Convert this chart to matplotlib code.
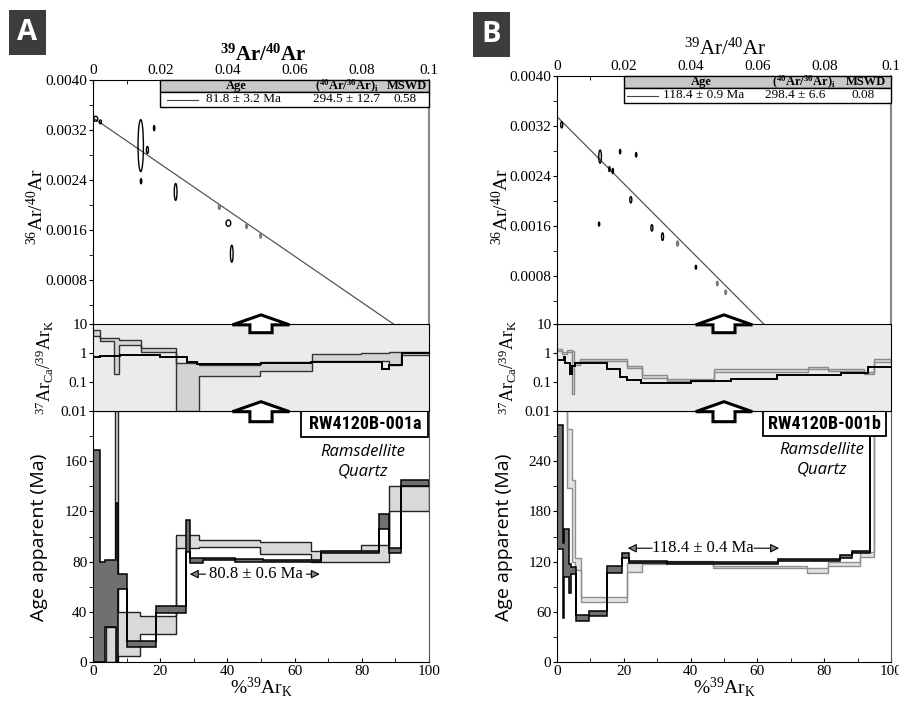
import matplotlib
matplotlib.use('Agg')
import matplotlib.pyplot as plt
from matplotlib.patches import Ellipse, Polygon, Rectangle
from matplotlib.ticker import MultipleLocator, FixedLocator, NullLocator, FormatStrFormatter

plt.rcParams['font.family'] = ['Liberation Serif', 'DejaVu Serif']
plt.rcParams['mathtext.default'] = 'regular'
SANS = ['Open Sans', 'DejaVu Sans']
NARROW = ['Liberation Sans Narrow', 'Roboto Condensed', 'DejaVu Sans Condensed', 'Roboto', 'DejaVu Sans']

# ---------------- dados: painel A ----------------
iso_A_x = [0.0008, 0.0022, 0.0142, 0.0162, 0.0182, 0.0143, 0.0246, 0.0376, 0.0403, 0.0457, 0.0499, 0.0413]
iso_A_y = [0.00338, 0.00333, 0.00295, 0.00288, 0.00323, 0.00238, 0.00221, 0.00197, 0.00171, 0.00166, 0.00151, 0.00122]
iso_A_w = [0.0012, 0.0006, 0.0016, 0.0006, 0.0004, 0.0004, 0.0008, 0.0006, 0.0014, 0.0005, 0.0005, 0.0008]
iso_A_h = [0.00008, 0.00006, 0.00083, 0.00011, 0.00008, 0.00008, 0.00027, 0.00008, 0.0001, 0.00007, 0.00008, 0.00027]
iso_A_used = [0, 0, 0, 0, 0, 0, 0, 1, 0, 1, 1, 0]
iso_A_line = [0.003396, 0.092]          # intercepto y, intercepto x
iso_A_table = ['81.8 ± 3.2 Ma', '294.5 ± 12.7', '0.58']

caK_A_edges = [0, 2.1, 6.3, 7.6, 14.2, 24.7, 31.6, 49.7, 65.1, 79.8, 88.2, 91.6, 100]
caK_A_lo = [3.9, 2.6, 0.19, 1.9, 1.1, 0.01, 0.166, 0.245, 0.54, 0.55, 0.39, 0.85]
caK_A_hi = [6.2, 3.3, 3.4, 2.8, 1.5, 0.45, 0.39, 0.48, 0.93, 1.0, 1.1, 1.05]
caK_A_line_edges = [0, 2, 8, 20, 28, 31, 42, 50, 65, 86, 88.2, 92, 100]
caK_A_line = [0.75, 0.8, 0.85, 0.7, 0.5, 0.42, 0.43, 0.46, 0.5, 0.28, 0.38, 1.0]

age_A_light_edges = [4, 6.5, 7.5, 14.1, 24.6, 31.6, 49.7, 65, 79.7, 88.2, 100]
age_A_light_lo = [0, 0, 5, 22, 91, 92, 86, 80, 80, 120]
age_A_light_hi = [28, 260, 40, 37, 101, 97, 96, 88.5, 93, 140]
age_A_dark_edges = [0, 2, 3.7, 6.75, 7.3, 10.1, 18.7, 27.6, 28.8, 32.6, 42.2, 50.6, 68, 85.2, 88.2, 91.6, 100]
age_A_dark_lo = [0, 0, 28, 0, 58, 12, 39, 88, 79, 81, 79.5, 80, 86.5, 106, 87, 140]
age_A_dark_hi = [169, 80, 81, 127, 70, 17, 45, 113, 83, 83, 82, 81.5, 88.5, 118, 91, 145]
plateau_A = '80.8 ± 0.6 Ma'
sample_A = 'RW4120B-001a'

# ---------------- dados: painel B ----------------
iso_B_x = [0.0014, 0.0129, 0.0189, 0.0237, 0.0157, 0.0167, 0.0221, 0.0126, 0.0284, 0.0316, 0.0361, 0.0416, 0.0480, 0.0505]
iso_B_y = [0.00322, 0.00271, 0.00279, 0.00274, 0.00251, 0.00248, 0.00202, 0.00163, 0.00157, 0.00143, 0.00132, 0.00094, 0.00068, 0.00054]
iso_B_w = [0.0006, 0.0008, 0.0004, 0.0004, 0.0004, 0.0004, 0.0006, 0.0004, 0.0006, 0.0006, 0.0006, 0.0004, 0.0005, 0.0005]
iso_B_h = [0.0001, 0.00021, 0.00007, 0.00007, 0.00008, 0.00008, 0.0001, 0.00006, 0.0001, 0.00012, 0.00008, 0.00006, 0.00007, 0.00007]
iso_B_used = [0, 0, 0, 0, 0, 0, 0, 0, 0, 0, 1, 0, 1, 1]
iso_B_line = [0.003351, 0.0625]
iso_B_table = ['118.4 ± 0.9 Ma', '298.4 ± 6.6', '0.08']

caK_B_edges = [0, 1.5, 3, 4.5, 5, 7, 21, 25.4, 33, 47, 75, 81, 92, 95, 100]
caK_B_lo = [1.2, 0.9, 1.05, 0.038, 0.4, 0.52, 0.3, 0.14, 0.11, 0.23, 0.28, 0.24, 0.19, 0.5]
caK_B_hi = [1.4, 1.05, 1.25, 1.2, 0.5, 0.62, 0.36, 0.17, 0.13, 0.27, 0.33, 0.28, 0.22, 0.6]
caK_B_line_edges = [0, 2, 2.5, 4, 4.4, 5.5, 15, 19, 21, 25, 40, 52, 66, 85, 93, 100]
caK_B_line = [0.57, 0.7, 0.45, 0.19, 0.35, 0.44, 0.275, 0.147, 0.115, 0.095, 0.105, 0.13, 0.175, 0.2, 0.33]

age_B_light_edges = [0, 3, 4.4, 5.4, 7.2, 20.9, 25.4, 33, 46.8, 74.9, 81.1, 90.6, 95, 100]
age_B_light_lo = [350, 208, 120, 110, 72, 108, 117, 118, 112, 106, 115, 125, 350]
age_B_light_hi = [360, 278, 218, 124, 78, 118, 120, 121, 115, 112, 120, 132, 360]
age_B_dark_edges = [0, 1.8, 2.2, 3.7, 4.2, 5.7, 9.7, 15, 19.5, 21.7, 25.4, 33, 52.2, 66.2, 84.7, 88.2, 93.6, 100]
age_B_dark_lo = [135, 52, 102, 83, 105, 49, 55, 106, 124, 118, 118.5, 117.5, 117.5, 121, 124, 130, 350]
age_B_dark_hi = [283, 142, 159, 117, 113, 56, 61, 115, 130, 121, 120.5, 119.5, 119, 123, 128, 133, 360]
plateau_B = '118.4 ± 0.4 Ma'
sample_B = 'RW4120B-001b'

W, H = 899, 703


def add_ax(fig, left, top, right, bottom, z):
    ax = fig.add_axes([left / W, 1 - bottom / H, (right - left) / W, (bottom - top) / H])
    ax.set_zorder(z)
    return ax


def draw_panel(fig, p):
    left, right = p['left'], p['right']

    # --- isocrona ---
    ax = add_ax(fig, left, p['iso_top'], right, p['iso_top'] + 250, 1)
    ax.set_xlim(0, 0.1)
    ax.set_ylim(0, 0.004)
    ax.xaxis.tick_top()
    ax.xaxis.set_major_locator(FixedLocator([0, 0.02, 0.04, 0.06, 0.08, 0.1]))
    ax.xaxis.set_minor_locator(MultipleLocator(0.01))
    ax.set_xticklabels(['0', '0.02', '0.04', '0.06', '0.08', '0.1'])
    ax.yaxis.set_major_locator(FixedLocator([0.0008, 0.0016, 0.0024, 0.0032, 0.0040]))
    ax.yaxis.set_minor_locator(FixedLocator([0.0004, 0.0012, 0.002, 0.0028, 0.0036]))
    ax.yaxis.set_major_formatter(FormatStrFormatter('%.4f'))
    ax.tick_params(axis='x', which='both', direction='in', labelsize=11, pad=2, length=3)
    ax.tick_params(axis='y', which='both', direction='out', labelsize=11, pad=1, length=3)
    ax.spines['bottom'].set_visible(False)
    ax.spines['right'].set_color('#888888')
    ax.spines['right'].set_linewidth(1.5)
    yint, xint = p['iso_line']
    ax.plot([0, xint], [yint, 0], color='#555555', lw=0.9)
    for x, y, w, h, u in zip(p['iso_x'], p['iso_y'], p['iso_w'], p['iso_h'], p['iso_used']):
        ax.add_patch(Ellipse((x, y), w, h, fc='#888888' if u else 'none',
                             ec='#777777' if u else 'k', lw=1.0, zorder=3))
    # tabela
    t0, t1, t2 = 1.0, 1 - 12 / 250, 1 - 27 / 250
    ax.add_patch(Rectangle((0.2, t1), 0.8, t0 - t1, transform=ax.transAxes, fc='#c8c8c8',
                           ec='k', lw=1.0, clip_on=False, zorder=4))
    ax.add_patch(Rectangle((0.2, t2), 0.8, t1 - t2, transform=ax.transAxes, fc='white',
                           ec='k', lw=1.0, clip_on=False, zorder=4))
    hy, ry = (t0 + t1) / 2, (t1 + t2) / 2
    for txt, xc in zip(['Age', r'($^{40}$Ar/$^{36}$Ar)$_i$', 'MSWD'], p['head_x']):
        ax.text(xc, hy, txt, transform=ax.transAxes, ha='center', va='center',
                fontsize=9, fontweight='bold', zorder=5)
    for txt, xc in zip(p['table'], p['row_x']):
        ax.text(xc, ry, txt, transform=ax.transAxes, ha='center', va='center',
                fontsize=9.5, zorder=5)
    ax.plot(p['sample_line'], [ry, ry], transform=ax.transAxes, color='#444444',
            lw=0.8, zorder=5, clip_on=False)

    # --- Ca/K ---
    axc = add_ax(fig, left, 324, right, 411, 3)
    axc.set_facecolor('#ebebeb')
    axc.set_yscale('log')
    axc.set_xlim(0, 100)
    axc.set_xticks([])
    axc.yaxis.set_major_locator(FixedLocator([0.01, 0.1, 1, 10]))
    axc.yaxis.set_minor_locator(NullLocator())
    axc.set_yticklabels(['0.01', '0.1', '1', '10'])
    axc.set_ylim(0.01, 10)
    axc.tick_params(axis='y', direction='out', labelsize=11, pad=1, length=3)
    axc.stairs(p['caK_hi'], p['caK_edges'], baseline=p['caK_lo'], fill=True,
               facecolor=p['caK_fc'], edgecolor=p['caK_ec'], lw=1.0)
    axc.stairs(p['caK_line'], p['caK_line_edges'], baseline=None, color='k', lw=1.4)
    for tip, base, bot in [(1.105, 0.99, 0.9), (0.107, -0.008, -0.123)]:
        pts = [(0.5, tip), (0.585, base), (0.533, base), (0.533, bot),
               (0.467, bot), (0.467, base), (0.415, base)]
        axc.add_patch(Polygon(pts, closed=True, transform=axc.transAxes, fc='white',
                              ec='k', lw=2.2, joinstyle='miter', clip_on=False, zorder=10))

    # --- espectro de idades ---
    axa = add_ax(fig, left, 411, right, 662, 2)
    step = p['age_step']
    axa.xaxis.set_major_locator(MultipleLocator(20))
    axa.xaxis.set_minor_locator(MultipleLocator(10))
    axa.yaxis.set_major_locator(FixedLocator([step * i for i in range(int(p['age_max'] / step) + 1)
                                              if step * i < p['age_max'] - 1]))
    axa.yaxis.set_minor_locator(MultipleLocator(step / 2))
    axa.set_xlim(0, 100)
    axa.set_ylim(0, p['age_max'])
    axa.tick_params(axis='x', which='both', direction='in', labelsize=11, pad=2, length=3)
    axa.tick_params(axis='y', which='both', direction='out', labelsize=11, pad=1, length=3)
    axa.spines['right'].set_color('#555555')
    axa.stairs(p['light_hi'], p['light_edges'], baseline=p['light_lo'], fill=True,
               facecolor=p['light_fc'], edgecolor=p['light_ec'], lw=1.0)
    axa.stairs(p['dark_hi'], p['dark_edges'], baseline=p['dark_lo'], fill=True,
               facecolor='#707070', edgecolor='k', lw=1.1)
    axa.set_xlabel(r'%$^{39}$Ar$_K$', fontsize=14, labelpad=-2)

    # plateau
    (xl, xt1, xc, xt2, xr), yp = p['plateau_x'], p['plateau_y']
    axa.text(xc, yp, p['plateau'], ha='center', va='center', fontsize=12)
    for tip, tail in [(xl, xt1), (xr, xt2)]:
        axa.annotate('', xy=(tip, yp), xytext=(tail, yp),
                     arrowprops=dict(arrowstyle='-|>', fc='#888888', ec='k', lw=0.8,
                                     mutation_scale=13, shrinkA=0, shrinkB=0))
    bx0, bx1, by0 = p['sample_box']
    axa.add_patch(Rectangle((bx0, by0), bx1 - bx0, p['age_max'] - by0, fc='white',
                            ec='k', lw=1.3, zorder=6, clip_on=False))
    axa.text((bx0 + bx1) / 2, (by0 + p['age_max']) / 2, p['sample'], ha='center',
             va='center', fontsize=13, fontweight='bold', family=NARROW, zorder=7)
    axa.text(p['rq_xy'][0], p['rq_xy'][1], 'Ramsdellite\nQuartz', ha='center', va='center',
             fontsize=12, style='italic', family=SANS, linespacing=1.25)

    # rotulos
    fig.text(p['lab_x'][0] / W, 1 - 207 / H, r'$^{36}$Ar/$^{40}$Ar', rotation=90,
             ha='center', va='center', fontsize=14)
    fig.text(p['lab_x'][1] / W, 1 - 367 / H, r'$^{37}$Ar$_{Ca}$/$^{39}$Ar$_K$', rotation=90,
             ha='center', va='center', fontsize=13)
    fig.text(p['lab_x'][2] / W, 1 - 537 / H, 'Age apparent (Ma)', rotation=90,
             ha='center', va='center', fontsize=14, family=SANS)
    fig.text(p['title_xy'][0] / W, 1 - p['title_xy'][1] / H, r'$^{39}$Ar/$^{40}$Ar',
             ha='center', va='center', fontsize=15, fontweight=p['title_w'])
    lx0, ly0, lx1, ly1 = p['letter_box']
    fig.patches.append(Rectangle((lx0 / W, 1 - ly1 / H), (lx1 - lx0) / W, (ly1 - ly0) / H,
                                 transform=fig.transFigure, fc='#3c3c3c', ec='none'))
    fig.text((lx0 + lx1) / 2 / W, 1 - (ly0 + ly1) / 2 / H, p['letter'], color='white',
             ha='center', va='center', fontsize=21, fontweight='bold', family=SANS)


panels = [
    dict(left=93, right=429, iso_top=80, iso_x=iso_A_x, iso_y=iso_A_y, iso_w=iso_A_w,
         iso_h=iso_A_h, iso_used=iso_A_used, iso_line=iso_A_line, table=iso_A_table,
         head_x=[0.428, 0.755, 0.935], row_x=[0.447, 0.755, 0.929], sample_line=[0.219, 0.313],
         caK_edges=caK_A_edges, caK_lo=caK_A_lo, caK_hi=caK_A_hi, caK_fc='#d4d4d4', caK_ec='#333333',
         caK_line_edges=caK_A_line_edges, caK_line=caK_A_line,
         light_edges=age_A_light_edges, light_lo=age_A_light_lo, light_hi=age_A_light_hi,
         light_fc='#d9d9d9', light_ec='#222222',
         dark_edges=age_A_dark_edges, dark_lo=age_A_dark_lo, dark_hi=age_A_dark_hi,
         age_max=200, age_step=40, plateau=plateau_A, plateau_x=(28.8, 33.5, 48.4, 63.5, 67.5),
         plateau_y=70, sample=sample_A, sample_box=(62, 99.8, 179), rq_xy=(80.4, 159.5),
         lab_x=(37, 45, 39), title_xy=(263, 55), title_w='bold', letter='A',
         letter_box=(9, 10, 46, 55)),
    dict(left=557, right=891, iso_top=76, iso_x=iso_B_x, iso_y=iso_B_y, iso_w=iso_B_w,
         iso_h=iso_B_h, iso_used=iso_B_used, iso_line=iso_B_line, table=iso_B_table,
         head_x=[0.433, 0.74, 0.925], row_x=[0.438, 0.713, 0.917], sample_line=[0.209, 0.303],
         caK_edges=caK_B_edges, caK_lo=caK_B_lo, caK_hi=caK_B_hi, caK_fc='#dcdcdc', caK_ec='#8a8a8a',
         caK_line_edges=caK_B_line_edges, caK_line=caK_B_line,
         light_edges=age_B_light_edges, light_lo=age_B_light_lo, light_hi=age_B_light_hi,
         light_fc='#e2e2e2', light_ec='#909090',
         dark_edges=age_B_dark_edges, dark_lo=age_B_dark_lo, dark_hi=age_B_dark_hi,
         age_max=300, age_step=60, plateau=plateau_B, plateau_x=(21.2, 28.5, 43.7, 59, 66.5),
         plateau_y=136, sample=sample_B, sample_box=(61.8, 98.5, 270), rq_xy=(79.3, 241.5),
         lab_x=(502, 508, 504), title_xy=(725, 49), title_w='normal', letter='B',
         letter_box=(473, 12, 510, 57)),
]

fig = plt.figure(figsize=(W / 100, H / 100), dpi=100)
for p in panels:
    draw_panel(fig, p)

fig.savefig('out.png', dpi=100)
